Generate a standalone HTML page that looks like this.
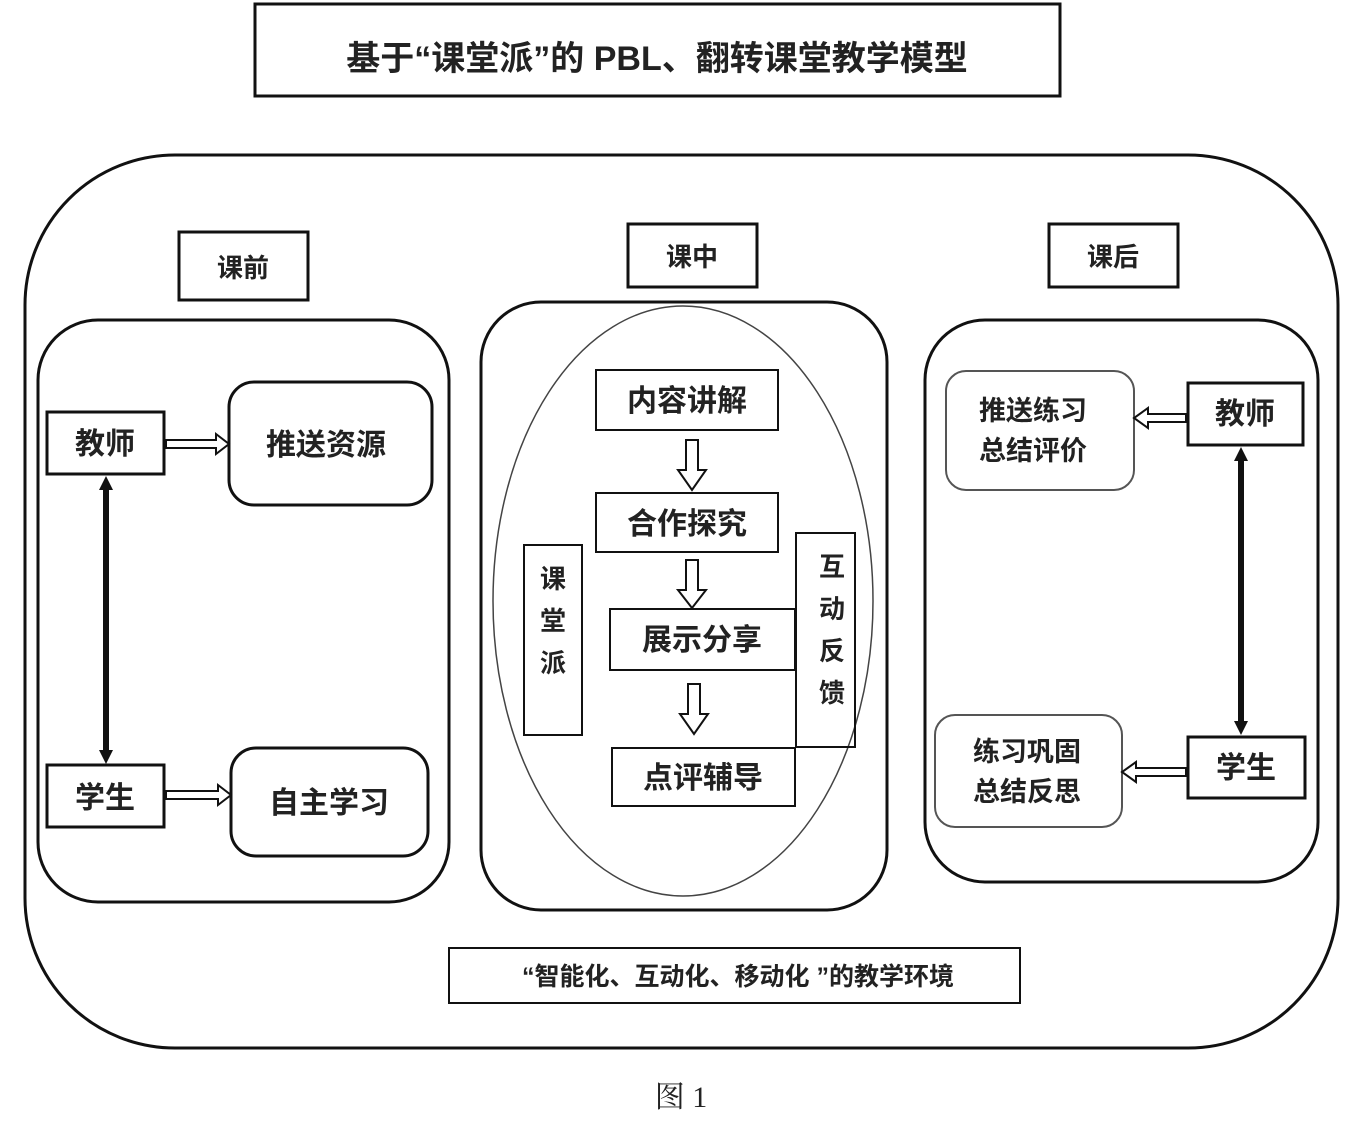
<!DOCTYPE html>
<html><head><meta charset="utf-8">
<style>
html,body{margin:0;padding:0;background:#fff;}
svg{display:block;}
text{font-family:"Liberation Sans","Noto Sans CJK SC",sans-serif;fill:#222;}
</style></head>
<body>
<svg width="1356" height="1129" viewBox="0 0 1356 1129" xmlns="http://www.w3.org/2000/svg">
<g fill="none" stroke="#111">
<rect x="255" y="4" width="805" height="92" stroke-width="3"/>
<rect x="25" y="155" width="1313" height="893" rx="150" stroke-width="3"/>
<rect x="179" y="232" width="129" height="68" stroke-width="3"/>
<rect x="628" y="224" width="129" height="63" stroke-width="3"/>
<rect x="1049" y="224" width="129" height="63" stroke-width="3"/>
<rect x="38" y="320" width="411" height="582" rx="60" stroke-width="3"/>
<rect x="481" y="302" width="406" height="608" rx="60" stroke-width="3"/>
<rect x="925" y="320" width="393" height="562" rx="60" stroke-width="3"/>
<rect x="47" y="412" width="117" height="62" stroke-width="3"/>
<rect x="229" y="382" width="203" height="123" rx="25" stroke-width="3"/>
<rect x="47" y="765" width="117" height="62" stroke-width="3"/>
<rect x="231" y="748" width="197" height="108" rx="25" stroke-width="3"/>
<line x1="106" y1="486" x2="106" y2="754" stroke-width="6"/>
<ellipse cx="683" cy="601" rx="190" ry="295" stroke-width="1.5" stroke="#444"/>
<rect x="596" y="370" width="182" height="60" stroke-width="2"/>
<rect x="596" y="493" width="182" height="59" stroke-width="2"/>
<rect x="610" y="609" width="185" height="61" stroke-width="2"/>
<rect x="612" y="748" width="183" height="58" stroke-width="2"/>
<rect x="524" y="545" width="58" height="190" stroke-width="2"/>
<rect x="796" y="533" width="59" height="214" stroke-width="2"/>
<rect x="946" y="371" width="188" height="119" rx="20" stroke-width="2" stroke="#555"/>
<rect x="1188" y="383" width="115" height="62" stroke-width="3"/>
<rect x="1188" y="737" width="117" height="61" stroke-width="3"/>
<rect x="935" y="715" width="187" height="112" rx="20" stroke-width="2" stroke="#555"/>
<line x1="1241" y1="458" x2="1241" y2="724" stroke-width="6"/>
<rect x="449" y="948" width="571" height="55" stroke-width="2"/>
</g>
<g fill="#111">
<path d="M106,476 L99,490 L113,490 Z"/>
<path d="M106,764 L99,750 L113,750 Z"/>
<path d="M1241,447 L1234,461 L1248,461 Z"/>
<path d="M1241,735 L1234,721 L1248,721 Z"/>
</g>
<g fill="#fff" stroke="#111" stroke-width="2">
<path d="M166,440 H216 V434 L229,444 L216,454 V448 H166 Z"/>
<path d="M166,791 H218 V785 L231,795 L218,805 V799 H166 Z"/>
<path d="M1186,414 H1148 V408 L1134,418 L1148,428 V422 H1186 Z"/>
<path d="M1186,768 H1136 V762 L1122,772 L1136,782 V776 H1186 Z"/>
<path d="M686,440 V470 H678 L692,490 L706,470 H698 V440 Z"/>
<path d="M686,560 V590 H678 L692,608 L706,590 H698 V560 Z"/>
<path d="M688,684 V714 H680 L694,734 L708,714 H700 V684 Z"/>
</g>
<g font-weight="bold">
<text x="657" y="70" font-size="34" text-anchor="middle">基于“课堂派”的 PBL、翻转课堂教学模型</text>
<text x="243" y="277" font-size="26" text-anchor="middle">课前</text>
<text x="692" y="266" font-size="26" text-anchor="middle">课中</text>
<text x="1113" y="266" font-size="26" text-anchor="middle">课后</text>
<text x="105" y="454" font-size="30" text-anchor="middle">教师</text>
<text x="326" y="455" font-size="30" text-anchor="middle">推送资源</text>
<text x="105" y="808" font-size="30" text-anchor="middle">学生</text>
<text x="329" y="813" font-size="30" text-anchor="middle">自主学习</text>
<text x="687" y="411" font-size="30" text-anchor="middle">内容讲解</text>
<text x="687" y="534" font-size="30" text-anchor="middle">合作探究</text>
<text x="702" y="650" font-size="30" text-anchor="middle">展示分享</text>
<text x="703" y="788" font-size="30" text-anchor="middle">点评辅导</text>
<text x="553" y="588" font-size="26" text-anchor="middle">课</text>
<text x="553" y="630" font-size="26" text-anchor="middle">堂</text>
<text x="553" y="672" font-size="26" text-anchor="middle">派</text>
<text x="832" y="576" font-size="26" text-anchor="middle">互</text>
<text x="832" y="618" font-size="26" text-anchor="middle">动</text>
<text x="832" y="660" font-size="26" text-anchor="middle">反</text>
<text x="832" y="702" font-size="26" text-anchor="middle">馈</text>
<text x="1033" y="420" font-size="27" text-anchor="middle">推送练习</text>
<text x="1033" y="460" font-size="27" text-anchor="middle">总结评价</text>
<text x="1245" y="424" font-size="30" text-anchor="middle">教师</text>
<text x="1246" y="778" font-size="30" text-anchor="middle">学生</text>
<text x="1027" y="761" font-size="27" text-anchor="middle">练习巩固</text>
<text x="1027" y="801" font-size="27" text-anchor="middle">总结反思</text>
<text x="738" y="985" font-size="25" text-anchor="middle">“智能化、互动化、移动化 ”的教学环境</text>
</g>
<text x="681" y="1107" font-size="30" text-anchor="middle" style="font-family:'Liberation Serif','Noto Serif CJK SC',serif">图 1</text>
</svg>
</body></html>
